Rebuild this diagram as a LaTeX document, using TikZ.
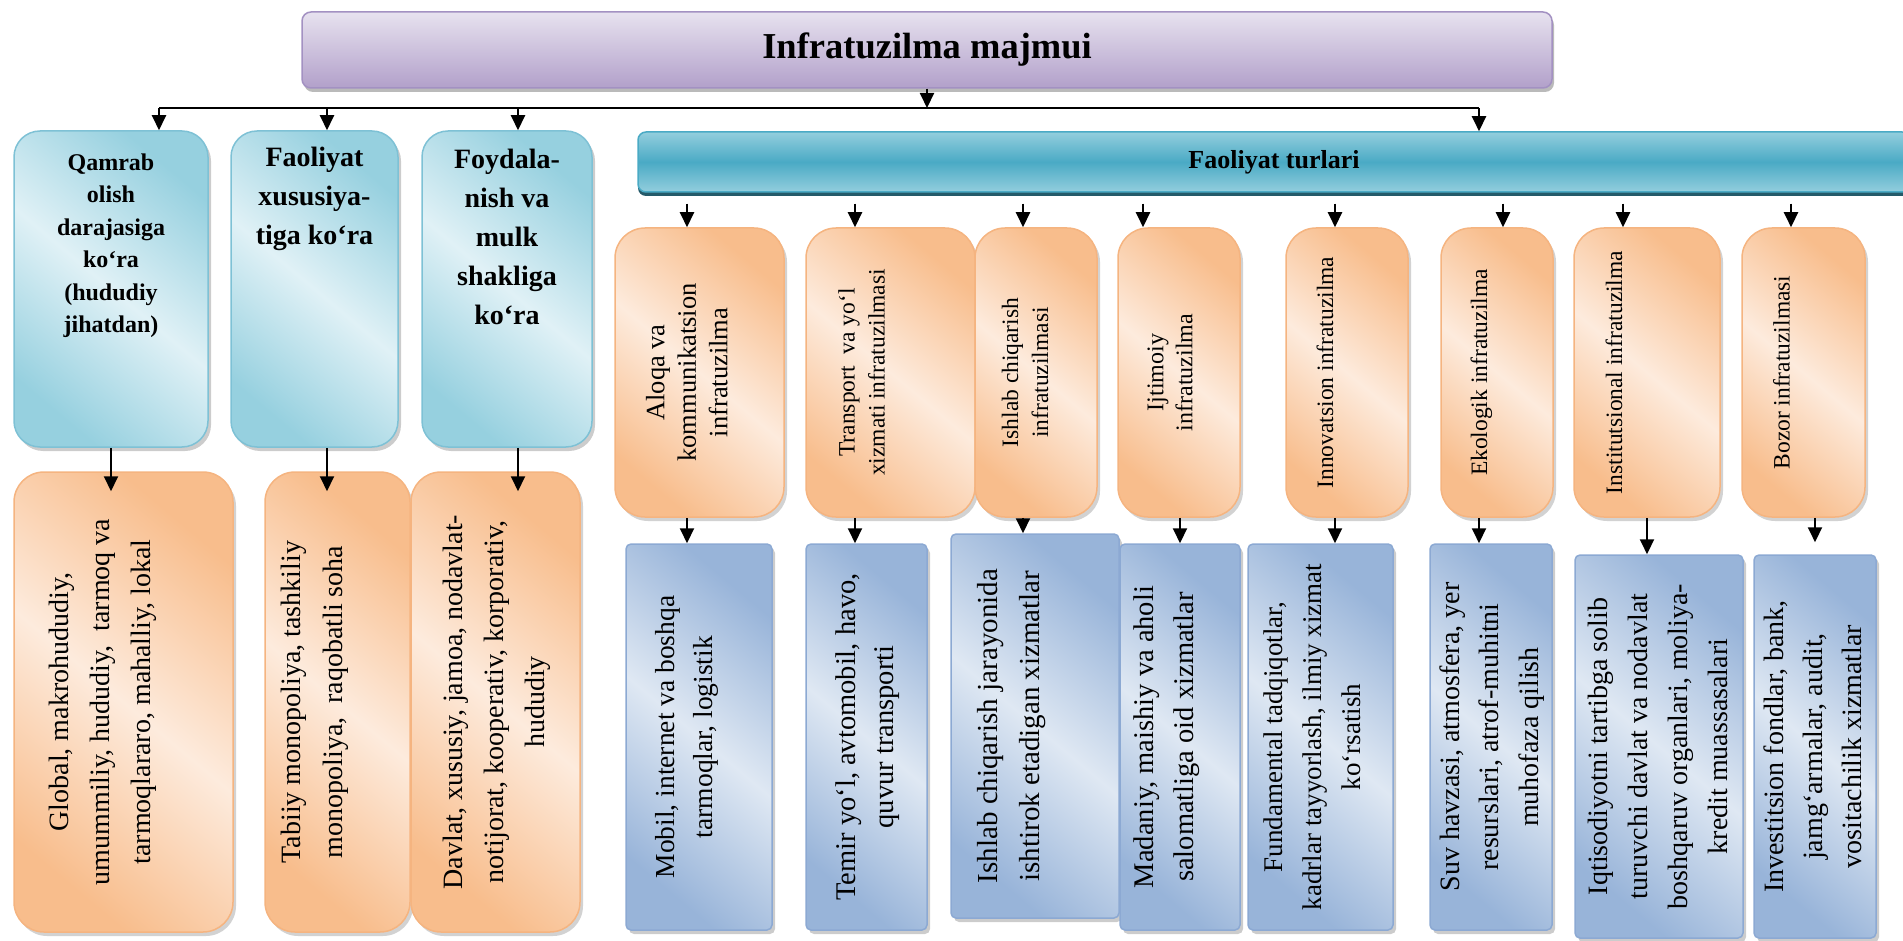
\documentclass[tikz,border=0pt]{standalone}
\usepackage{fontspec}
\setmainfont{Liberation Serif}
\usepackage{tikz}
\usetikzlibrary{positioning,arrows.meta,shadows}
\usepackage{xcolor}
\usepackage{graphicx}
\definecolor{HeadTop}{RGB}{231,226,239}
\definecolor{HeadBottom}{RGB}{178,160,202}
\definecolor{HeadLine}{RGB}{163,145,194}
\definecolor{CatDark}{RGB}{150,208,223}
\definecolor{CatLight}{RGB}{224,241,246}
\definecolor{CatLine}{RGB}{126,193,213}
\definecolor{BarLight}{RGB}{147,206,221}
\definecolor{BarMid}{RGB}{74,170,197}
\definecolor{BarDark}{RGB}{36,90,105}
\definecolor{TypeDark}{RGB}{248,189,140}
\definecolor{TypeLight}{RGB}{253,235,221}
\definecolor{TypeLine}{RGB}{245,180,128}
\definecolor{ItemDark}{RGB}{152,180,217}
\definecolor{ItemLight}{RGB}{223,232,243}
\definecolor{ItemLine}{RGB}{140,169,211}
\newcommand{\vtext}[2][0pt]{\rotatebox{90}{\begin{tabular}{@{}c@{}}#2\end{tabular}}\hspace*{#1}}

\begin{document}
\begin{tikzpicture}[x=1pt,y=-1pt,
headbox/.style={rectangle,rounded corners=9pt,draw=HeadLine,line width=1.5pt,top color=HeadTop,bottom color=HeadBottom,
drop shadow={shadow xshift=2pt,shadow yshift=-4pt,fill=black!45,opacity=.6},inner sep=0pt,
font=\bfseries\fontsize{36.5}{40}\selectfont},
catbox/.style={rectangle,rounded corners=26pt,draw=CatLine,line width=1.5pt,top color=CatDark,bottom color=CatDark,
middle color=CatLight,shading angle=-40,drop shadow={shadow xshift=3pt,shadow yshift=-4pt,fill=black!40,opacity=.5},inner sep=0pt},
cattext/.style={align=center,inner sep=0pt,font=\bfseries\fontsize{28}{39}\selectfont},
barbox/.style={rectangle,rounded corners=8pt,draw=BarMid,line width=1.5pt,top color=BarLight,bottom color=BarLight,
middle color=BarMid,drop shadow={shadow xshift=0pt,shadow yshift=-4pt,fill=BarDark,opacity=1},inner sep=0pt,
font=\bfseries\fontsize{26}{30}\selectfont},
typebox/.style={rectangle,rounded corners=30pt,draw=TypeLine,line width=1.5pt,top color=TypeDark,bottom color=TypeDark,
middle color=TypeLight,shading angle=-40,drop shadow={shadow xshift=3pt,shadow yshift=-4pt,fill=black!35,opacity=.5},inner sep=0pt,
font=\fontsize{23.5}{30}\selectfont},
itembox/.style={rectangle,rounded corners=5pt,draw=ItemLine,line width=1.5pt,top color=ItemDark,bottom color=ItemDark,
middle color=ItemLight,shading angle=-40,drop shadow={shadow xshift=3pt,shadow yshift=-4pt,fill=black!40,opacity=.5},inner sep=0pt,
font=\fontsize{28}{40}\selectfont},
arrow/.style={-{Triangle[length=15pt,width=14pt]},line width=2pt,draw=black},
bararrow/.style={arrow,shorten <=11pt},
busline/.style={line width=2pt,draw=black}
]
\useasboundingbox (0,0) rectangle (1903,941);

% top level
\node[headbox,minimum width=1250pt,minimum height=76pt] (title) at (927,50) {Infratuzilma majmui};

% classification boxes
\node[catbox,minimum width=194pt,minimum height=316pt] (qamrab) at (111,289) {};
\node[catbox,minimum width=167pt,minimum height=316pt] (faol) at (314.5,289) {};
\node[catbox,minimum width=170pt,minimum height=316pt] (foyd) at (507,289) {};
\node[cattext,font=\bfseries\fontsize{24}{32.5}\selectfont,below=23pt of qamrab.north] (qamrab-t)
{Qamrab\\olish\\darajasiga\\ko‘ra\\(hududiy\\jihatdan)};
\node[cattext,below=16.5pt of faol.north] (faol-t) {Faoliyat\\xususiya-\\tiga ko‘ra};
\node[cattext,below=18.5pt of foyd.north] (foyd-t) {Foydala-\\nish va\\mulk\\shakliga\\ko‘ra};

\node[typebox,minimum width=219pt,minimum height=460pt,font=\fontsize{28}{41}\selectfont] (glob) at (123.5,702)
{\vtext[44pt]{Global, makrohududiy,\\umummiliy, hududiy,\ \ tarmoq va\\tarmoqlararo, mahalliy, lokal}};
\node[typebox,minimum width=145pt,minimum height=460pt,font=\fontsize{28}{42}\selectfont] (tabiiy) at (337.5,702)
{\vtext[48pt]{Tabiiy monopoliya, tashkiliy\\monopoliya,\ \ raqobatli soha}};
\node[typebox,minimum width=169pt,minimum height=460pt,font=\fontsize{28}{41}\selectfont] (davlat) at (495.5,702)
{\vtext{Davlat, xususiy, jamoa, nodavlat-\\notijorat, kooperativ, korporativ,\\hududiy}};

% activity types
\node[barbox,minimum width=1272pt,minimum height=60pt] (bar) at (1274,162) {Faoliyat turlari};

\node[typebox,minimum width=169pt,minimum height=289pt,font=\fontsize{26.5}{31.5}\selectfont] (aloqa) at (699.5,372.5)
{\vtext[20pt]{Aloqa va\\kommunikatsion\\infratuzilma}};
\node[typebox,minimum width=169pt,minimum height=289pt] (transport) at (890.5,372.5)
{\vtext[54pt]{Transport\ \ va yo‘l\\xizmati infratuzilmasi}};
\node[typebox,minimum width=122pt,minimum height=289pt] (ishlab) at (1036,372.5)
{\vtext[18pt]{Ishlab chiqarish\\infratuzilmasi}};
\node[typebox,minimum width=122pt,minimum height=289pt,font=\fontsize{24}{29}\selectfont] (ijtimoiy) at (1179,372.5)
{\vtext[14pt]{Ijtimoiy\\infratuzilma}};
\node[typebox,minimum width=122pt,minimum height=289pt] (innov) at (1347,372.5)
{\vtext[40pt]{Innovatsion infratuzilma}};
\node[typebox,minimum width=112pt,minimum height=289pt] (ekolog) at (1497,372.5)
{\vtext[32pt]{Ekologik infratuzilma}};
\node[typebox,minimum width=146pt,minimum height=289pt] (instit) at (1647,372.5)
{\vtext[62pt]{Institutsional infratuzilma}};
\node[typebox,minimum width=123pt,minimum height=289pt] (bozor) at (1803.5,372.5)
{\vtext[40pt]{Bozor infratuzilmasi}};

% contents
\node[itembox,minimum width=146pt,minimum height=386pt,font=\fontsize{27.5}{38}\selectfont] (mobil) at (699,737)
{\vtext[26pt]{Mobil, internet va boshqa\\tarmoqlar, logistik}};
\node[itembox,minimum width=121pt,minimum height=386pt,font=\fontsize{28.5}{38}\selectfont] (temir) at (866.5,737)
{\vtext{Temir yo‘l, avtomobil, havo,\\quvur transporti}};
\node[itembox,minimum width=168pt,minimum height=384pt,font=\fontsize{29}{42}\selectfont] (ishlabx) at (1035,726)
{\vtext[50pt]{Ishlab chiqarish jarayonida\\ishtirok etadigan xizmatlar}};
\node[itembox,minimum width=120pt,minimum height=386pt,font=\fontsize{28.5}{40}\selectfont] (madaniy) at (1180,737)
{\vtext[30pt]{Madaniy, maishiy va aholi\\salomatliga oid xizmatlar}};
\node[itembox,minimum width=145pt,minimum height=386pt,font=\fontsize{27}{39}\selectfont] (fundam) at (1320.5,737)
{\vtext[14pt]{Fundamental tadqiqotlar,\\kadrlar tayyorlash, ilmiy xizmat\\ko‘rsatish}};
\node[itembox,minimum width=122pt,minimum height=386pt,font=\fontsize{28}{39.5}\selectfont] (suv) at (1491,737)
{\vtext{Suv havzasi, atmosfera, yer\\resurslari, atrof-muhitni\\muhofaza qilish}};
\node[itembox,minimum width=168pt,minimum height=383pt,font=\fontsize{28}{40}\selectfont] (iqtisod) at (1659,746.5)
{\vtext{Iqtisodiyotni tartibga solib\\turuvchi davlat va nodavlat\\boshqaruv organlari, moliya-\\kredit muassasalari}};
\node[itembox,minimum width=122pt,minimum height=383pt,font=\fontsize{28}{39}\selectfont] (invest) at (1815,746.5)
{\vtext{Investitsion fondlar, bank,\\jamg‘armalar, audit,\\vositachilik xizmatlar}};

% connectors
\coordinate (bus) at (927,108);
\coordinate (busL) at ([xshift=48pt]qamrab.north |- bus);
\coordinate (busR) at ([xshift=205pt]bar.north |- bus);
\draw[arrow] (title.south) -- (bus);
\draw[busline] (busL) -- (busR);
\draw[arrow] (busL) -- ([xshift=48pt]qamrab.north);
\draw[arrow] ([xshift=12.5pt]faol.north |- bus) -- ([xshift=12.5pt]faol.north);
\draw[arrow] ([xshift=11pt]foyd.north |- bus) -- ([xshift=11pt]foyd.north);
\draw[arrow] (busR) -- ([xshift=205pt]bar.north);

\draw[arrow] (qamrab.south) -- ([yshift=-20pt]glob.north -| qamrab.south);
\draw[arrow] ([xshift=12.5pt]faol.south) -- ([xshift=12.5pt,yshift=-20pt]faol.south |- tabiiy.north);
\draw[arrow] ([xshift=11pt]foyd.south) -- ([xshift=11pt,yshift=-20pt]foyd.south |- davlat.north);

\draw[bararrow] ([xshift=-12.5pt]aloqa.north |- bar.south) -- ([xshift=-12.5pt]aloqa.north);
\draw[bararrow] ([xshift=-35.5pt]transport.north |- bar.south) -- ([xshift=-35.5pt]transport.north);
\draw[bararrow] ([xshift=-13pt]ishlab.north |- bar.south) -- ([xshift=-13pt]ishlab.north);
\draw[bararrow] ([xshift=-36pt]ijtimoiy.north |- bar.south) -- ([xshift=-36pt]ijtimoiy.north);
\draw[bararrow] ([xshift=-12pt]innov.north |- bar.south) -- ([xshift=-12pt]innov.north);
\draw[bararrow] ([xshift=6pt]ekolog.north |- bar.south) -- ([xshift=6pt]ekolog.north);
\draw[bararrow] ([xshift=-24pt]instit.north |- bar.south) -- ([xshift=-24pt]instit.north);
\draw[bararrow] ([xshift=-12.5pt]bozor.north |- bar.south) -- ([xshift=-12.5pt]bozor.north);

\draw[arrow] ([xshift=-12.5pt]aloqa.south) -- ([xshift=-12.5pt]aloqa.south |- mobil.north);
\draw[arrow] ([xshift=-35.5pt]transport.south) -- ([xshift=-35.5pt]transport.south |- temir.north);
\draw[arrow] ([xshift=-13pt]ishlab.south) -- ([xshift=-13pt]ishlab.south |- ishlabx.north);
\draw[arrow] (ijtimoiy.south -| madaniy.north) -- (madaniy.north);
\draw[arrow] ([xshift=-12pt]innov.south) -- ([xshift=-12pt]innov.south |- fundam.north);
\draw[arrow] ([xshift=-18pt]ekolog.south) -- ([xshift=-18pt]ekolog.south |- suv.north);
\draw[arrow] (instit.south) -- (instit.south |- iqtisod.north);
\draw[arrow] (bozor.south -| invest.north) -- ([yshift=12pt]invest.north);
\end{tikzpicture}
\end{document}
